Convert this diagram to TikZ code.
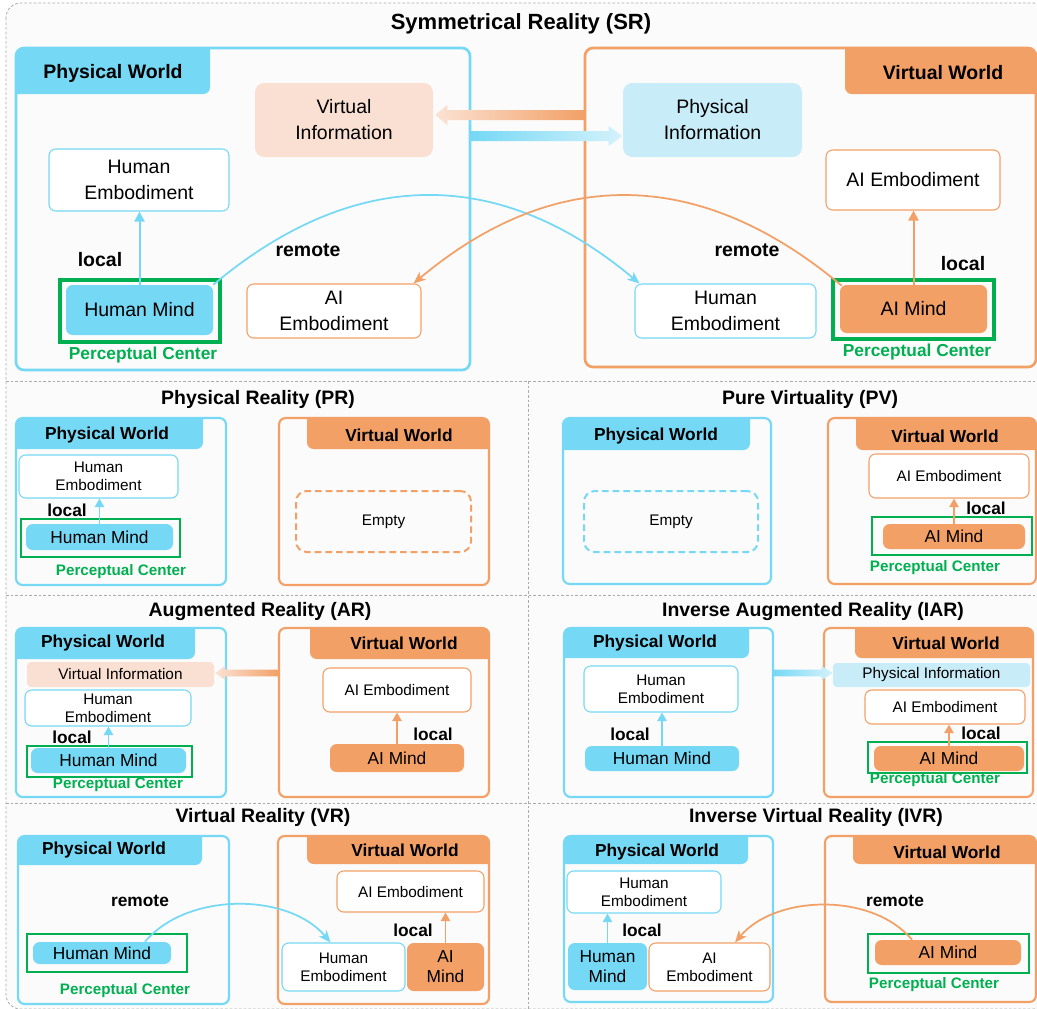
\documentclass[tikz,border=0pt]{standalone}
\usepackage{fontspec}
\setmainfont{Liberation Sans}
\usetikzlibrary{arrows.meta,calc}
\definecolor{cblue}{RGB}{117,216,245}
\definecolor{corange}{RGB}{242,160,102}
\definecolor{cpeach}{RGB}{250,224,210}
\definecolor{clblue}{RGB}{200,236,248}
\definecolor{cpeachL}{RGB}{251,226,212}
\definecolor{clblueL}{RGB}{212,242,251}
\definecolor{cgreen}{RGB}{0,176,80}
\definecolor{cgray}{RGB}{170,170,170}
\definecolor{bgc}{RGB}{251,251,251}
\newcommand\mkbox[7]{\node[#2, minimum width={(#5-#3)*0.75pt}, minimum height={(#6-#4)*0.75pt}] (#1) at ({(#3+#5)/2},{(#4+#6)/2}) {#7};}
\newcommand\tabL[6]{\begin{scope}\clip[rounded corners=6pt] (#1,#2) rectangle (#3,#4);
  \fill[cblue, rounded corners=5pt] ({#1-20},{#2-20}) rectangle (#5,#6);\end{scope}}
\newcommand\tabR[6]{\begin{scope}\clip[rounded corners=6pt] (#1,#2) rectangle (#3,#4);
  \fill[corange, rounded corners=5pt] (#5,{#2-20}) rectangle ({#3+20},#6);\end{scope}}
\tikzset{
  every node/.style={inner sep=0pt, align=center, text=black},
  sep/.style={draw=cgray, line width=0.6pt, dash pattern=on 2pt off 1.5pt},
  worldL/.style={draw=cblue, line width=2pt, rounded corners=6pt},
  worldR/.style={draw=corange, line width=2pt, rounded corners=6pt},
  worldLs/.style={draw=cblue, line width=1.6pt, rounded corners=5pt},
  worldRs/.style={draw=corange, line width=1.6pt, rounded corners=5pt},
  embB/.style={draw=cblue, line width=0.8pt, fill=white, rounded corners=5pt},
  embO/.style={draw=corange, line width=0.8pt, fill=white, rounded corners=5pt},
  mindB/.style={fill=cblue, rounded corners=5pt},
  mindO/.style={fill=corange, rounded corners=5pt},
  infoO/.style={fill=cpeach, rounded corners=7pt},
  infoB/.style={fill=clblue, rounded corners=7pt},
  infoOs/.style={fill=cpeach, rounded corners=3pt},
  infoBs/.style={fill=clblue, rounded corners=3pt},
  pcbox/.style={draw=cgreen, line width=2.6pt},
  pcboxs/.style={draw=cgreen, line width=2.2pt},
  emptyO/.style={draw=corange, line width=1.5pt, dash pattern=on 5pt off 3pt, rounded corners=8pt},
  emptyB/.style={draw=cblue, line width=1.5pt, dash pattern=on 5pt off 3pt, rounded corners=8pt},
  lbl/.style={yshift=-1.5pt},
  fT/.style={lbl, font=\fontsize{16.5}{19}\selectfont\bfseries},
  fTab/.style={lbl, font=\fontsize{14.6}{17}\selectfont\bfseries},
  fN/.style={font=\fontsize{14.6}{19.5}\selectfont},
  fL/.style={lbl, font=\fontsize{14.6}{17}\selectfont\bfseries},
  fPC/.style={lbl, font=\fontsize{13}{15}\selectfont\bfseries, text=cgreen},
  sT/.style={lbl, font=\fontsize{14.6}{17}\selectfont\bfseries},
  sTab/.style={lbl, font=\fontsize{13}{15}\selectfont\bfseries},
  sM/.style={font=\fontsize{13}{15}\selectfont},
  sE/.style={font=\fontsize{11.5}{13.7}\selectfont},
  sL/.style={lbl, font=\fontsize{13}{15}\selectfont\bfseries},
  sPC/.style={lbl, font=\fontsize{11.4}{13}\selectfont\bfseries, text=cgreen},
  arB/.style={draw=cblue, line width=1.5pt, -{Triangle[length=7.5pt,width=7.5pt]}},
  arO/.style={draw=corange, line width=1.5pt, -{Triangle[length=7.5pt,width=7.5pt]}},
  sarB/.style={draw=cblue, line width=1.4pt, -{Triangle[length=6.5pt,width=7pt]}},
  sarO/.style={draw=corange, line width=1.4pt, -{Triangle[length=6.5pt,width=7pt]}},
  arcB/.style={draw=cblue, line width=1.3pt, -{Stealth[length=9pt,width=7.5pt,inset=2.5pt]}},
  arcO/.style={draw=corange, line width=1.3pt, -{Stealth[length=9pt,width=7.5pt,inset=2.5pt]}},
}
\begin{document}
\begin{tikzpicture}[x=0.75pt,y=-0.75pt]
\useasboundingbox (0,0) rectangle (1037,1008);
\fill[white] (0,0) rectangle (1037,1008);
\draw[sep, fill=bgc, rounded corners=11pt] (6,3) rectangle (1048,1009);
\draw[sep] (6,381) -- (1048,381);
\draw[sep] (6,595) -- (1048,595);
\draw[sep] (6,803) -- (1048,803);
\draw[sep] (528,381) -- (528,1009);

% ================= SR =================
\node[fT] (tsr) at (521,22) {Symmetrical Reality (SR)};
\tabL{16}{48}{470}{370}{210}{94}
\mkbox{pw1}{worldL}{16}{48}{470}{370}{}
\node[fTab] (pw1t) at (113,71) {Physical World};
\tabR{585}{48}{1036}{367}{845}{94}
\mkbox{vw1}{worldR}{585}{48}{1036}{367}{}
\node[fTab] (vw1t) at (943,71) {Virtual World};

\mkbox{vinfo1}{infoO,fN}{255}{83}{433}{157}{Virtual\\Information}
\mkbox{pinfo1}{infoB,fN}{623}{83}{802}{157}{Physical\\Information}
\mkbox{he1}{embB,fN}{49}{149}{229}{211}{Human\\Embodiment}
\mkbox{hm1}{mindB,fN}{66}{285}{213}{335}{Human Mind}
\mkbox{g1}{pcbox}{60}{280}{220}{342}{}
\node[fPC] (pc1) at (143,353) {Perceptual Center};
\node[fL] (local1) at (100,258) {local};
\node[fL] (remote1) at (308,248) {remote};
\mkbox{ae1}{embO,fN}{247}{284}{421}{338}{AI\\Embodiment}
\mkbox{ae2}{embO,fN}{826}{150}{1000}{210}{AI Embodiment}
\mkbox{he2}{embB,fN}{635}{284}{816}{338}{Human\\Embodiment}
\mkbox{am1}{mindO,fN}{840}{285}{987}{333}{AI Mind}
\mkbox{g2}{pcbox}{833}{280}{994}{339}{}
\node[fPC] (pc2) at (917,350) {Perceptual Center};
\node[fL] (local2) at (963,262) {local};
\node[fL] (remote2) at (747,248) {remote};

\draw[arB] (hm1.north) -- (hm1.north |- he1.south);
\draw[arO] (am1.north) -- (am1.north |- ae2.south);

\coordinate (oa1s) at (585,115);
\shade[left color=cpeachL, right color=corange] let \p1=(oa1s), \p2=(vinfo1.east) in
  (\x1,{\y1+3.75pt}) -- ({\x2+10.5pt},{\y1+3.75pt}) -- ({\x2+10.5pt},{\y1+7.5pt}) -- ({\x2+1.5pt},\y1)
  -- ({\x2+10.5pt},{\y1-7.5pt}) -- ({\x2+10.5pt},{\y1-3.75pt}) -- (\x1,{\y1-3.75pt}) -- cycle;
\coordinate (ba1s) at (470,136);
\shade[left color=cblue, right color=clblueL] let \p1=(ba1s), \p2=(pinfo1.west) in
  (\x1,{\y1+3.75pt}) -- ({\x2-10.5pt},{\y1+3.75pt}) -- ({\x2-10.5pt},{\y1+7.5pt}) -- ({\x2-0.5pt},\y1)
  -- ({\x2-10.5pt},{\y1-7.5pt}) -- ({\x2-10.5pt},{\y1-3.75pt}) -- (\x1,{\y1-3.75pt}) -- cycle;

\draw[arcB] (hm1.north east) to[out=40,in=140,looseness=1.1] ($(he2.north west)+(5,0)$);
\draw[arcO] ($(am1.north west)+(2,1)$) to[out=140,in=40,looseness=1.1] ($(ae1.north east)+(-8,0)$);

% ================= PR =================
\node[sT] (tpr) at (258,397) {Physical Reality (PR)};
\tabL{16}{418}{226}{585}{203}{449}
\mkbox{pw2}{worldLs}{16}{418}{226}{585}{}
\node[sTab] (pw2t) at (107,433) {Physical World};
\tabR{279}{418}{489}{585}{307}{449}
\mkbox{vw2}{worldRs}{279}{418}{489}{585}{}
\node[sTab] (vw2t) at (399,433) {Virtual World};
\mkbox{he3}{embB,sE}{19}{455}{178}{498}{Human\\Embodiment}
\mkbox{hm3}{mindB,sM}{26}{524}{173}{550}{Human Mind}
\mkbox{g3}{pcboxs}{21}{519}{180}{557}{}
\node[sL] (local3) at (67,508) {local};
\node[sPC] (pc3) at (121,570) {Perceptual Center};
\mkbox{empty3}{emptyO,sE}{296}{491}{471}{552}{Empty}
\draw[sarB] (hm3.north) -- (hm3.north |- he3.south);

% ================= PV =================
\node[sT] (tpv) at (810,397) {Pure Virtuality (PV)};
\tabL{563}{418}{771}{584}{750}{450}
\mkbox{pw4}{worldLs}{563}{418}{771}{584}{}
\node[sTab] (pw4t) at (656,434) {Physical World};
\mkbox{empty4}{emptyB,sE}{584}{491}{758}{552}{Empty}
\tabR{828}{418}{1036}{584}{856}{450}
\mkbox{vw4}{worldRs}{828}{418}{1036}{584}{}
\node[sTab] (vw4t) at (945,434) {Virtual World};
\mkbox{ae4}{embO,sE}{869}{454}{1029}{498}{AI Embodiment}
\mkbox{am4}{mindO,sM}{883}{524}{1025}{549}{AI Mind}
\mkbox{g4}{pcboxs}{872}{517}{1032}{555}{}
\node[sL] (local4) at (986,506) {local};
\node[sPC] (pc4) at (935,566) {Perceptual Center};
\draw[sarO] (am4.north) -- (am4.north |- ae4.south);

% ================= AR =================
\node[sT] (tar) at (260,609) {Augmented Reality (AR)};
\tabL{16}{628}{226}{797}{195}{659}
\mkbox{pw5}{worldLs}{16}{628}{226}{797}{}
\node[sTab] (pw5t) at (103,641) {Physical World};
\tabR{279}{628}{489}{797}{310}{659}
\mkbox{vw5}{worldRs}{279}{628}{489}{797}{}
\node[sTab] (vw5t) at (404,641) {Virtual World};
\mkbox{vinfo5}{infoOs,sE}{27}{662}{214}{687}{Virtual Information}
\mkbox{he5}{embB,sE}{25}{690}{191}{726}{Human\\Embodiment}
\mkbox{hm5}{mindB,sM}{31}{748}{186}{773}{Human Mind}
\mkbox{g5}{pcboxs}{27}{746}{192}{777}{}
\node[sL] (local5) at (72,735) {local};
\node[sPC] (pc5) at (118,783) {Perceptual Center};
\mkbox{ae5}{embO,sE}{323}{668}{471}{712}{AI Embodiment}
\mkbox{am5}{mindO,sM}{330}{744}{464}{772}{AI Mind}
\node[sL] (local5b) at (433,732) {local};
\draw[sarB] (hm5.north) -- (hm5.north |- he5.south);
\draw[sarO] (am5.north) -- (am5.north |- ae5.south);
\coordinate (oa5s) at (279,673);
\shade[left color=cpeachL, right color=corange] let \p1=(oa5s), \p2=(vinfo5.east) in
  (\x1,{\y1+2.6pt}) -- ({\x2+8.25pt},{\y1+2.6pt}) -- ({\x2+8.25pt},{\y1+5.25pt}) -- ({\x2+0.75pt},\y1)
  -- ({\x2+8.25pt},{\y1-5.25pt}) -- ({\x2+8.25pt},{\y1-2.6pt}) -- (\x1,{\y1-2.6pt}) -- cycle;

% ================= IAR =================
\node[sT] (tiar) at (813,609) {Inverse Augmented Reality (IAR)};
\tabL{564}{628}{773}{797}{749}{658}
\mkbox{pw6}{worldLs}{564}{628}{773}{797}{}
\node[sTab] (pw6t) at (655,641) {Physical World};
\tabR{824}{628}{1033}{797}{855}{658}
\mkbox{vw6}{worldRs}{824}{628}{1033}{797}{}
\node[sTab] (vw6t) at (946,641) {Virtual World};
\mkbox{he6}{embB,sE}{584}{666}{738}{712}{Human\\Embodiment}
\mkbox{hm6}{mindB,sM}{585}{746}{739}{771}{Human Mind}
\node[sL] (local6) at (630,732) {local};
\mkbox{pinfo6}{infoBs,sE}{833}{663}{1030}{687}{Physical Information}
\mkbox{ae6}{embO,sE}{865}{690}{1025}{724}{AI Embodiment}
\mkbox{am6}{mindO,sM}{874}{746}{1024}{771}{AI Mind}
\mkbox{g6}{pcboxs}{868}{742}{1027}{773}{}
\node[sL] (local6b) at (981,731) {local};
\node[sPC] (pc6) at (935,778) {Perceptual Center};
\draw[sarB] (hm6.north) -- (hm6.north |- he6.south);
\draw[sarO] (am6.north) -- (am6.north |- ae6.south);
\coordinate (ba6s) at (773,673);
\shade[left color=cblue, right color=clblueL] let \p1=(ba6s), \p2=(pinfo6.west) in
  (\x1,{\y1+2.6pt}) -- ({\x2-8.25pt},{\y1+2.6pt}) -- ({\x2-8.25pt},{\y1+5.25pt}) -- (\x2,\y1)
  -- ({\x2-8.25pt},{\y1-5.25pt}) -- ({\x2-8.25pt},{\y1-2.6pt}) -- (\x1,{\y1-2.6pt}) -- cycle;

% ================= VR =================
\node[sT] (tvr) at (263,815) {Virtual Reality (VR)};
\tabL{18}{836}{229}{1004}{202}{865}
\mkbox{pw7}{worldLs}{18}{836}{229}{1004}{}
\node[sTab] (pw7t) at (104,848) {Physical World};
\tabR{278}{836}{489}{1004}{307}{864}
\mkbox{vw7}{worldRs}{278}{836}{489}{1004}{}
\node[sTab] (vw7t) at (405,848) {Virtual World};
\node[sL] (remote7) at (140,899) {remote};
\mkbox{hm7}{mindB,sM}{33}{942}{171}{964}{Human Mind}
\mkbox{g7}{pcboxs}{27}{934}{187}{972}{}
\node[sPC] (pc7) at (125,989) {Perceptual Center};
\mkbox{ae7}{embO,sE}{337}{871}{484}{912}{AI Embodiment}
\mkbox{he7}{embB,sE}{282}{943}{405}{991}{Human\\Embodiment}
\mkbox{am7}{mindO,sM}{407}{943}{484}{991}{AI\\Mind}
\node[sL] (local7) at (413,928) {local};
\draw[sarO] (am7.north) -- (am7.north |- ae7.south);
\draw[arcB] ($(hm7.north)+(43,0)$) to[out=50,in=130,looseness=0.9] ($(he7.north)+(-13,0)$);

% ================= IVR =================
\node[sT] (tivr) at (816,815) {Inverse Virtual Reality (IVR)};
\tabL{564}{836}{773}{1002}{748}{864}
\mkbox{pw8}{worldLs}{564}{836}{773}{1002}{}
\node[sTab] (pw8t) at (657,850) {Physical World};
\tabR{825}{836}{1036}{1002}{853}{864}
\mkbox{vw8}{worldRs}{825}{836}{1036}{1002}{}
\node[sTab] (vw8t) at (947,850) {Virtual World};
\mkbox{he8}{embB,sE}{567}{871}{721}{913}{Human\\Embodiment}
\node[sL] (local8) at (642,928) {local};
\mkbox{hm8}{mindB,sM}{568}{943}{647}{990}{Human\\Mind}
\mkbox{ae8}{embO,sE}{649}{943}{770}{991}{AI\\Embodiment}
\node[sL] (remote8) at (895,899) {remote};
\mkbox{am8}{mindO,sM}{875}{940}{1021}{965}{AI Mind}
\mkbox{g8}{pcboxs}{868}{934}{1029}{973}{}
\node[sPC] (pc8) at (934,983) {Perceptual Center};
\draw[sarB] (hm8.north) -- (hm8.north |- he8.south);
\draw[arcO] ($(am8.north)+(-36,0)$) to[out=130,in=50,looseness=0.9] ($(ae8.north)+(25.5,0)$);
\end{tikzpicture}
\end{document}
